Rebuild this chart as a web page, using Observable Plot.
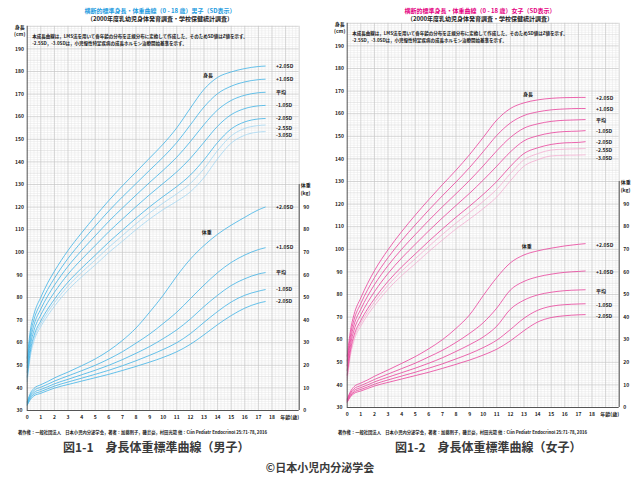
<!DOCTYPE html>
<html><head><meta charset="utf-8">
<script src="https://cdn.jsdelivr.net/npm/d3@7"></script>
<script src="https://cdn.jsdelivr.net/npm/@observablehq/plot@0.6"></script>
<style>
html,body{margin:0;padding:0;background:#fff}
body{width:640px;height:480px;position:relative;overflow:hidden;font-family:"Noto Sans CJK JP","Noto Sans",sans-serif}
.t{position:absolute;white-space:nowrap;line-height:1}
.c{transform:translateX(-50%)}
.chart{position:absolute}
</style></head><body>
<div class="t c" style="left:160px;top:7.5px;font-size:6px;font-weight:bold;color:#1d9be0">横断的標準身長・体重曲線（0 - 18 歳）男子（SD表示）</div>
<div class="t c" style="left:160px;top:16.3px;font-size:6px;font-weight:bold;color:#222">（2000年度乳幼児身体発育調査・学校保健統計調査）</div>
<div class="t c" style="left:480px;top:7.5px;font-size:6px;font-weight:bold;color:#e4007f">横断的標準身長・体重曲線（0 - 18 歳）女子（SD表示）</div>
<div class="t c" style="left:480px;top:16.3px;font-size:6px;font-weight:bold;color:#222">（2000年度乳幼児身体発育調査・学校保健統計調査）</div>
<div id="boys" class="chart" style="left:0;top:20px"></div>
<div id="girls" class="chart" style="left:320px;top:17.3px"></div>
<div class="t" style="left:18px;top:429.6px;font-size:4.3px;font-weight:bold;color:#222">著作権：一般社団法人　日本小児内分泌学会，著者：加藤則子，磯島豪，村田光範 他：Clin Pediatr Endocrinol 25:71-78, 2016</div>
<div class="t" style="left:338px;top:429.6px;font-size:4.3px;font-weight:bold;color:#222">著作権：一般社団法人　日本小児内分泌学会，著者：加藤則子，磯島豪，村田光範 他：Clin Pediatr Endocrinol 25:71-78, 2016</div>
<div class="t" style="left:63px;top:440.5px;font-size:12px;font-weight:bold;color:#3a3a3a">図1-1　身長体重標準曲線（男子）</div>
<div class="t" style="left:395px;top:440.5px;font-size:12px;font-weight:bold;color:#3a3a3a">図1-2　身長体重標準曲線（女子）</div>
<div class="t c" style="left:320px;top:462px;font-size:11px;font-weight:bold;color:#3a3a3a">©日本小児内分泌学会</div>
<script>
// ages (years)
const ages = [0, 0.25, 0.5, 1, 1.5, 2, 3, 4, 5, 6, 7, 8, 9, 10, 11, 12, 13, 14, 15, 16, 17, 17.5];

// Boys height (cm): +2SD, +1SD, mean, -1SD, -2SD, -2.5SD, -3SD
const boysHeightP2  = [53.2, 66.1, 72.7, 80.1, 86.4, 91.6, 100.8, 108.6, 115.9, 122.9, 129.4, 135.5, 141.7, 147.9, 155.1, 163.8, 172.1, 177.4, 179.8, 181.3, 182.2, 182.4];
const boysHeightP1  = [51.1, 63.8, 70.3, 77.5, 83.5, 88.5, 97.3, 104.7, 111.6, 118.3, 124.5, 130.4, 136.3, 142.1, 148.6, 156.4, 164.3, 170.2, 173.5, 175.4, 176.4, 176.6];
const boysHeightM   = [49.0, 61.5, 67.9, 74.9, 80.6, 85.4, 93.8, 100.8, 107.3, 113.7, 119.6, 125.3, 130.9, 136.3, 142.1, 149.0, 156.5, 163.0, 167.2, 169.5, 170.6, 170.8];
const boysHeightM1  = [46.9, 59.2, 65.5, 72.3, 77.7, 82.3, 90.3, 96.9, 103.0, 109.1, 114.7, 120.2, 125.5, 130.5, 135.6, 141.6, 148.7, 155.8, 160.9, 163.6, 164.8, 165.0];
const boysHeightM2  = [44.8, 56.9, 63.1, 69.7, 74.8, 79.2, 86.8, 93.0, 98.7, 104.5, 109.8, 115.1, 120.1, 124.7, 129.1, 134.2, 140.9, 148.6, 154.6, 157.7, 159.0, 159.2];
const boysHeightM25 = [43.8, 55.8, 61.9, 68.4, 73.4, 77.7, 85.1, 91.1, 96.6, 102.2, 107.4, 112.6, 117.4, 121.8, 125.9, 130.5, 137.0, 145.0, 151.5, 154.8, 156.1, 156.3];
const boysHeightM3  = [42.7, 54.6, 60.7, 67.1, 71.9, 76.1, 83.3, 89.1, 94.4, 99.9, 104.9, 110.0, 114.7, 118.9, 122.6, 126.8, 133.1, 141.4, 148.3, 151.8, 153.2, 153.4];

// Boys weight (kg): +2SD, +1SD, mean, -1SD, -2SD
const boysWeightP2 = [3.9, 7.8, 9.8, 11.4, 12.8, 14.4, 17.0, 19.8, 22.8, 26.5, 31.0, 36.5, 43.5, 51.0, 59.5, 67.0, 73.0, 78.0, 82.0, 85.5, 88.8, 90.0];
const boysWeightP1 = [3.5, 7.0, 8.9, 10.3, 11.6, 13.0, 15.3, 17.6, 20.0, 22.8, 26.0, 29.8, 33.8, 38.5, 43.5, 49.5, 55.5, 61.0, 65.5, 68.8, 71.2, 72.0];
const boysWeightM  = [3.0, 6.3, 8.0, 9.3, 10.5, 11.8, 13.8, 15.8, 17.8, 20.0, 22.5, 25.3, 28.3, 31.8, 35.7, 40.5, 46.0, 51.0, 55.3, 58.3, 60.4, 61.0];
const boysWeightM1 = [2.6, 5.6, 7.2, 8.4, 9.6, 10.8, 12.6, 14.3, 16.0, 17.8, 19.8, 22.0, 24.4, 27.0, 30.0, 34.0, 39.0, 43.8, 48.0, 51.0, 52.8, 53.5];
const boysWeightM2 = [2.3, 5.0, 6.5, 7.6, 8.8, 9.9, 11.5, 13.0, 14.5, 16.0, 17.7, 19.5, 21.4, 23.5, 26.0, 29.3, 33.5, 38.0, 42.0, 45.3, 47.5, 48.2];

// Girls height (cm)
const girlsHeightP2  = [52.7, 64.4, 71.1, 78.5, 84.9, 90.5, 99.8, 107.8, 115.1, 122.0, 128.6, 135.0, 141.9, 149.5, 157.2, 162.3, 164.8, 166.1, 166.8, 167.1, 167.2, 167.2];
const girlsHeightP1  = [50.6, 62.2, 68.8, 76.0, 82.1, 87.4, 96.3, 103.9, 110.8, 117.4, 123.7, 129.8, 136.2, 143.2, 150.4, 155.9, 159.2, 160.8, 161.7, 162.1, 162.3, 162.3];
const girlsHeightM   = [48.5, 60.0, 66.5, 73.5, 79.3, 84.3, 92.8, 100.0, 106.5, 112.8, 118.8, 124.6, 130.5, 136.9, 143.6, 149.5, 153.6, 155.5, 156.6, 157.1, 157.3, 157.4];
const girlsHeightM1  = [46.4, 57.8, 64.2, 71.0, 76.5, 81.2, 89.3, 96.1, 102.2, 108.2, 113.9, 119.4, 124.8, 130.6, 136.8, 143.1, 148.0, 150.2, 151.5, 152.1, 152.3, 152.5];
const girlsHeightM2  = [44.3, 55.6, 61.9, 68.5, 73.7, 78.1, 85.8, 92.2, 97.9, 103.6, 109.0, 114.2, 119.1, 124.3, 130.0, 136.7, 142.4, 144.9, 146.4, 147.1, 147.3, 147.6];
const girlsHeightM25 = [43.3, 54.5, 60.8, 67.3, 72.3, 76.6, 84.1, 90.3, 95.8, 101.3, 106.6, 111.6, 116.3, 121.2, 126.6, 133.5, 139.6, 142.3, 143.9, 144.3, 144.5, 144.6];
const girlsHeightM3  = [42.2, 53.4, 59.6, 66.0, 70.9, 75.0, 82.3, 88.3, 93.6, 99.0, 104.1, 109.0, 113.4, 118.0, 123.2, 130.3, 136.8, 139.6, 141.3, 141.6, 141.7, 141.8];

// Girls weight (kg)
const girlsWeightP2 = [3.8, 7.2, 9.2, 10.8, 12.2, 13.8, 16.6, 19.5, 22.5, 26.0, 30.0, 35.0, 41.0, 49.5, 57.5, 64.0, 67.5, 69.3, 70.5, 71.5, 72.2, 72.5];
const girlsWeightP1 = [3.4, 6.5, 8.3, 9.7, 11.0, 12.4, 14.8, 17.2, 19.6, 22.4, 25.3, 28.8, 32.8, 37.5, 44.0, 52.0, 55.8, 57.8, 59.0, 59.8, 60.2, 60.4];
const girlsWeightM  = [3.0, 5.9, 7.5, 8.8, 10.0, 11.3, 13.4, 15.4, 17.4, 19.6, 22.0, 24.8, 27.8, 31.2, 36.0, 43.5, 47.5, 49.8, 51.0, 51.7, 52.0, 52.1];
const girlsWeightM1 = [2.6, 5.3, 6.8, 8.0, 9.1, 10.3, 12.2, 13.9, 15.6, 17.4, 19.3, 21.5, 23.8, 26.5, 29.8, 34.5, 39.5, 43.0, 44.8, 45.5, 45.8, 45.9];
const girlsWeightM2 = [2.3, 4.8, 6.2, 7.3, 8.4, 9.5, 11.1, 12.6, 14.1, 15.6, 17.3, 19.1, 21.0, 23.2, 25.8, 29.5, 34.0, 37.8, 39.8, 40.6, 41.0, 41.1];

// tick labels and names
const heightTicks = [30, 40, 50, 60, 70, 80, 90, 100, 110, 120, 130, 140, 150, 160, 170, 180, 190];
const weightTicks = [0, 10, 20, 30, 40, 50, 60, 70, 80, 90];
const ageTicks = [0, 1, 2, 3, 4, 5, 6, 7, 8, 9, 10, 11, 12, 13, 14, 15, 16, 17, 18];
const sdNames = ["+2.0SD", "+1.0SD", "平均", "-1.0SD", "-2.0SD", "-2.5SD", "-3.0SD"];
const noteLines = [
  "本成長曲線は，LMS法を用いて各年齢の分布を正規分布に変換して作成した。そのためSD値はZ値を示す。",
  "-2.5SD，-3.0SDは，小児慢性特定疾病の成長ホルモン治療開始基準を示す。"
];

const FONT = '"Noto Sans CJK JP","Noto Sans",sans-serif';
const WEIGHT_OFFSET = 30; // weight axis 0 kg aligns with 30 cm

function makeChart(cfg) {
  const last = ages.length - 1;
  const toRows = (series, off, base) => series.flatMap((arr, i) => arr.map((v, j) => ({age: ages[j], v: v + off, s: base + i})));
  const hMain = toRows(cfg.height.slice(0, 5), 0, 0);
  const hLow = toRows(cfg.height.slice(5), 0, 5);
  const wRows = toRows(cfg.weight, WEIGHT_OFFSET, 0);
  const hLab = cfg.height.map((arr, i) => ({n: sdNames[i], v: arr[last]}));
  const wLab = cfg.weight.map((arr, i) => ({n: sdNames[i], v: arr[last] + WEIGHT_OFFSET}));
  const minorX = d3.range(0, 20.001, 0.25).filter(d => d % 1 !== 0);
  const minorY = d3.range(30, 200.001, 1).filter(d => d % 5 !== 0);
  const midY = d3.range(35, 200, 10);
  const majorX = d3.range(1, 21, 1);
  const majorY = d3.range(40, 201, 10);
  const txt = {fontSize: 5, fontWeight: "bold", fill: "#222", fontFamily: FONT};
  return Plot.plot({
    width: 320, height: 404,
    marginLeft: 26.7, marginRight: 21.3, marginTop: 5.8, marginBottom: 14,
    x: {domain: [0, 20], axis: null},
    y: {domain: [30, 200], axis: null},
    style: {fontFamily: FONT, background: "transparent", overflow: "visible"},
    marks: [
      Plot.ruleX(minorX, {stroke: "#e6e6e6", strokeWidth: 0.5}),
      Plot.ruleY(minorY, {stroke: "#e6e6e6", strokeWidth: 0.5}),
      Plot.ruleY(midY, {stroke: "#d6d6d6", strokeWidth: 0.6}),
      Plot.ruleX(majorX, {stroke: "#c4c4c4", strokeWidth: 0.7}),
      Plot.ruleY(majorY, {stroke: "#c4c4c4", strokeWidth: 0.7}),
      // notes
      Plot.text([noteLines[0]], {frameAnchor: "top-left", text: d => d, dx: 5, dy: 8.2, textAnchor: "start", fontSize: 4.5, fontWeight: "bold", fill: "#222"}),
      Plot.text([noteLines[1]], {frameAnchor: "top-left", text: d => d, dx: 5, dy: 15.2, textAnchor: "start", fontSize: 4.5, fontWeight: "bold", fill: "#222"}),
      // curves
      Plot.line(hLow, {x: "age", y: "v", z: "s", stroke: cfg.light, strokeWidth: 0.8, strokeDasharray: "1.6,0.8", curve: "monotone-x"}),
      Plot.line(hMain, {x: "age", y: "v", z: "s", stroke: cfg.color, strokeWidth: 0.8, curve: "monotone-x"}),
      Plot.line(wRows, {x: "age", y: "v", z: "s", stroke: cfg.color, strokeWidth: 0.8, curve: "monotone-x"}),
      // curve labels
      Plot.text(hLab.slice(0, 5), {x: () => 18.3, y: "v", text: "n", textAnchor: "start", dy: cfg.hDy, ...txt}),
      Plot.text(hLab.slice(5, 6), {x: () => 18.3, y: "v", text: "n", textAnchor: "start", dy: cfg.dy25, ...txt}),
      Plot.text(hLab.slice(6, 7), {x: () => 18.3, y: "v", text: "n", textAnchor: "start", dy: cfg.dy3, ...txt}),
      Plot.text(wLab, {x: () => 18.3, y: "v", text: "n", textAnchor: "start", dy: cfg.wDy, ...txt}),
      Plot.text(["身長"], {x: () => 13.3, y: () => cfg.hLabelY, text: d => d, ...txt}),
      Plot.text(["体重"], {x: () => 13.2, y: () => cfg.wLabelY, text: d => d, ...txt}),
      // axis lines
      Plot.ruleX([0], {stroke: "#555", strokeWidth: 1}),
      Plot.ruleY([30], {stroke: "#555", strokeWidth: 1}),
      Plot.ruleX([20], {y1: 30, y2: 130, stroke: "#555", strokeWidth: 1}),
      // axes
      Plot.axisY(heightTicks, {anchor: "left", tickSize: 0, tickPadding: 7.7, textAnchor: "middle", label: null, fontSize: 5, fontWeight: "bold", fill: "#222"}),
      Plot.axisY(weightTicks.map(w => w + WEIGHT_OFFSET), {anchor: "right", tickSize: 0, tickPadding: 4, tickFormat: d => d - WEIGHT_OFFSET, label: null, fontSize: 5, fontWeight: "bold", fill: "#222"}),
      Plot.axisX(ageTicks, {anchor: "bottom", tickSize: 0, tickPadding: 4.5, label: null, fontSize: 5, fontWeight: "bold", fill: "#222"}),
      Plot.text(["年齢(歳)"], {x: () => 19.3, y: () => 30, text: d => d, dy: 6.7, ...txt}),
      Plot.text(["身長"], {x: () => 0, y: () => 199.3, text: d => d, dx: -7.5, ...txt}),
      Plot.text(["(cm)"], {x: () => 0, y: () => 196.4, text: d => d, dx: -7.5, ...txt}),
      Plot.text(["体重"], {x: () => 20, y: () => 129.6, text: d => d, dx: 1.5, textAnchor: "start", ...txt}),
      Plot.text(["(kg)"], {x: () => 20, y: () => 126.2, text: d => d, dx: 1.5, textAnchor: "start", ...txt})
    ]
  });
}

document.getElementById("boys").append(makeChart({
  height: [boysHeightP2, boysHeightP1, boysHeightM, boysHeightM1, boysHeightM2, boysHeightM25, boysHeightM3],
  weight: [boysWeightP2, boysWeightP1, boysWeightM, boysWeightM1, boysWeightM2],
  color: "#3fb2e6", light: "#9fd6f2",
  hDy: 0, dy25: 3.4, dy3: 3.8, wDy: 0,
  hLabelY: 178.2, wLabelY: 108.9
}));
document.getElementById("girls").append(makeChart({
  height: [girlsHeightP2, girlsHeightP1, girlsHeightM, girlsHeightM1, girlsHeightM2, girlsHeightM25, girlsHeightM3],
  weight: [girlsWeightP2, girlsWeightP1, girlsWeightM, girlsWeightM1, girlsWeightM2],
  color: "#e8409a", light: "#f4a9cf",
  hDy: 0.5, dy25: 1.7, dy3: 3.7, wDy: 1.5,
  hLabelY: 168.4, wLabelY: 101.5
}));
</script>
</body></html>
